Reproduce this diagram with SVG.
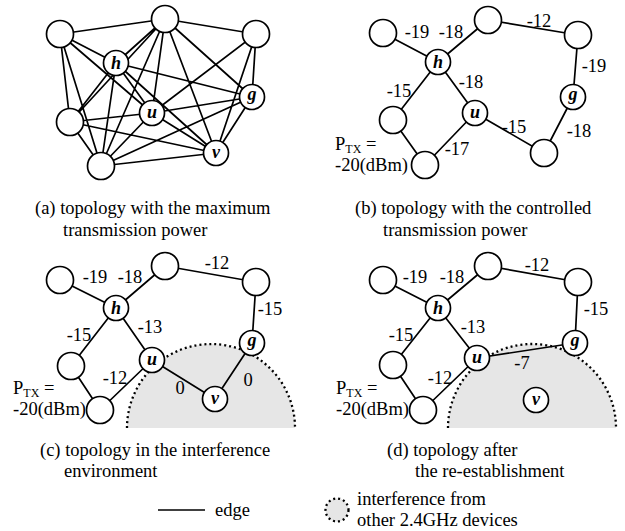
<svg xmlns="http://www.w3.org/2000/svg" width="625" height="531" viewBox="0 0 625 531">
<style>
.e{stroke:#000;stroke-width:1.7;fill:none}
.n{fill:#fff;stroke:#000;stroke-width:1.7}
.t{font-family:"Liberation Serif","Times New Roman",serif;font-size:18.5px;fill:#000}
.m{text-anchor:middle}
.lab{font-family:"Liberation Serif","Times New Roman",serif;font-size:18px;font-weight:bold;font-style:italic;text-anchor:middle;fill:#000}
.intf{fill:#e6e6e6;stroke:none}
.dot{fill:none;stroke:#000;stroke-width:2.3;stroke-dasharray:2 3}
.sub{font-size:12px}
</style>
<rect width="625" height="531" fill="#fff"/>
<g id="interference">
<path class="intf" d="M127 428 A84 84 0 0 1 295 428 Z"/>
<path class="intf" d="M448 428 A84 84 0 0 1 616 428 Z"/>
</g>
<g id="connectors">
<path class="e" d="M60 34L165 19M60 34L116 63M60 34L152 113M60 34L70 122M60 34L101 166
M165 19L256 34M165 19L116 63M165 19L252 97M165 19L152 113M165 19L70 122M165 19L101 166M165 19L216 153
M256 34L252 97M256 34L152 113M256 34L216 153
M116 63L252 97M116 63L152 113M116 63L70 122M116 63L101 166M116 63L216 153
M252 97L152 113M252 97L101 166M252 97L216 153
M152 113L70 122M152 113L101 166M152 113L216 153
M70 122L101 166M70 122L216 153M101 166L216 153"/>
<path class="e" d="M383 33L438 62M438 62L488 20M488 20L578 35M578 35L573 97M438 62L393 120M438 62L475 113M393 120L425 165M475 113L425 165M475 113L544 153M573 97L544 153"/>
<path class="e" d="M60 280L116 308M116 308L165 266M165 266L256 282M256 282L252 343M116 308L71 366M116 308L152 360M71 366L100 410M152 360L100 410M152 360L215 399M215 399L252 343"/>
<path class="e" d="M383 280L438 308M438 308L488 266M488 266L578 282M578 282L575 343M438 308L393 365M438 308L477 358M393 365L423 410M477 358L423 410M477 358L575 343"/>
<path class="e" d="M158 510L205 510"/>
</g>
<g id="interference-border">
<path class="dot" d="M127 428 A84 84 0 0 1 295 428"/>
<path class="dot" d="M448 428 A84 84 0 0 1 616 428"/>
</g>
<g id="a-tl"><circle class="n" cx="60" cy="34" r="13.5"/></g>
<g id="a-t"><circle class="n" cx="165" cy="19" r="13.5"/></g>
<g id="a-tr"><circle class="n" cx="256" cy="34" r="13.5"/></g>
<g id="a-h"><circle class="n" cx="116" cy="63" r="12.5"/><text class="lab" x="116" y="69">h</text></g>
<g id="a-g"><circle class="n" cx="252" cy="97" r="12.5"/><text class="lab" x="252" y="100">g</text></g>
<g id="a-u"><circle class="n" cx="152" cy="113" r="12.5"/><text class="lab" x="152" y="117.5">u</text></g>
<g id="a-lm"><circle class="n" cx="70" cy="122" r="13.5"/></g>
<g id="a-b"><circle class="n" cx="101" cy="166" r="13.5"/></g>
<g id="a-v"><circle class="n" cx="216" cy="153" r="12.5"/><text class="lab" x="216" y="157.5">v</text></g>
<g id="b-l"><circle class="n" cx="383" cy="33" r="13.5"/></g>
<g id="b-t"><circle class="n" cx="488" cy="20" r="13.5"/></g>
<g id="b-tr"><circle class="n" cx="578" cy="35" r="13.5"/></g>
<g id="b-h"><circle class="n" cx="438" cy="62" r="12.5"/><text class="lab" x="438" y="68">h</text></g>
<g id="b-g"><circle class="n" cx="573" cy="97" r="12.5"/><text class="lab" x="573" y="100">g</text></g>
<g id="b-u"><circle class="n" cx="475" cy="113" r="12.5"/><text class="lab" x="475" y="117.5">u</text></g>
<g id="b-lm"><circle class="n" cx="393" cy="120" r="13.5"/></g>
<g id="b-b"><circle class="n" cx="425" cy="165" r="13.5"/></g>
<g id="b-br"><circle class="n" cx="544" cy="153" r="13.5"/></g>
<g id="c-tl"><circle class="n" cx="60" cy="280" r="13.5"/></g>
<g id="c-t"><circle class="n" cx="165" cy="266" r="13.5"/></g>
<g id="c-tr"><circle class="n" cx="256" cy="282" r="13.5"/></g>
<g id="c-h"><circle class="n" cx="116" cy="308" r="12.5"/><text class="lab" x="116" y="314">h</text></g>
<g id="c-g"><circle class="n" cx="252" cy="343" r="12.5"/><text class="lab" x="252" y="346">g</text></g>
<g id="c-u"><circle class="n" cx="152" cy="360" r="12.5"/><text class="lab" x="152" y="364.5">u</text></g>
<g id="c-lm"><circle class="n" cx="71" cy="366" r="13.5"/></g>
<g id="c-b"><circle class="n" cx="100" cy="410" r="13.5"/></g>
<g id="c-v"><circle class="n" cx="215" cy="399" r="12.5"/><text class="lab" x="215" y="403.5">v</text></g>
<g id="d-tl"><circle class="n" cx="383" cy="280" r="13.5"/></g>
<g id="d-t"><circle class="n" cx="488" cy="266" r="13.5"/></g>
<g id="d-tr"><circle class="n" cx="578" cy="282" r="13.5"/></g>
<g id="d-h"><circle class="n" cx="438" cy="308" r="12.5"/><text class="lab" x="438" y="314">h</text></g>
<g id="d-g"><circle class="n" cx="575" cy="343" r="12.5"/><text class="lab" x="575" y="346">g</text></g>
<g id="d-u"><circle class="n" cx="477" cy="358" r="12.5"/><text class="lab" x="477" y="362.5">u</text></g>
<g id="d-lm"><circle class="n" cx="393" cy="365" r="13.5"/></g>
<g id="d-b"><circle class="n" cx="423" cy="410" r="13.5"/></g>
<g id="d-v"><circle class="n" cx="536" cy="400" r="12.5"/><text class="lab" x="536" y="404.5">v</text></g>
<g id="labels-b" class="t m">
<text x="417" y="38">-19</text><text x="451" y="38">-18</text><text x="539" y="27">-12</text>
<text x="594" y="72">-19</text><text x="399" y="97">-15</text><text x="471" y="88">-18</text>
<text x="514" y="133">-15</text><text x="579" y="137">-18</text><text x="457" y="155">-17</text>
</g>
<g id="labels-c" class="t m">
<text x="95" y="283">-19</text><text x="130" y="283">-18</text><text x="217" y="269">-12</text>
<text x="270" y="315">-15</text><text x="79" y="341">-15</text><text x="150" y="333">-13</text>
<text x="115" y="384">-12</text><text x="180" y="394">0</text><text x="248" y="386">0</text>
</g>
<g id="labels-d" class="t m">
<text x="415" y="283">-19</text><text x="452" y="283">-18</text><text x="537" y="271">-12</text>
<text x="596" y="315">-15</text><text x="401" y="341">-15</text><text x="473" y="333">-13</text>
<text x="440" y="384">-12</text><text x="522" y="369">-7</text>
</g>
<g id="ptx" class="t">
<text x="335" y="150">P<tspan class="sub" dy="2.5">TX</tspan><tspan dy="-2.5"> =</tspan></text>
<text x="335" y="171">-20(dBm)</text>
<text x="13" y="394">P<tspan class="sub" dy="2.5">TX</tspan><tspan dy="-2.5"> =</tspan></text>
<text x="13" y="415">-20(dBm)</text>
<text x="336" y="394">P<tspan class="sub" dy="2.5">TX</tspan><tspan dy="-2.5"> =</tspan></text>
<text x="336" y="415">-20(dBm)</text>
</g>
<g id="captions" class="t">
<text x="35" y="214">(a) topology with the maximum</text>
<text x="63" y="236">transmission power</text>
<text x="355" y="214">(b) topology with the controlled</text>
<text x="383" y="236">transmission power</text>
<text x="40" y="456">(c) topology in the interference</text>
<text x="64" y="477">environment</text>
<text x="387" y="456">(d) topology after</text>
<text x="415" y="477">the re-establishment</text>
</g>
<g id="legend" class="t">
<text x="215" y="516">edge</text>
<circle cx="337" cy="510" r="11.5" fill="#e6e6e6" stroke="#000" stroke-width="2.3" stroke-dasharray="2 3"/>
<text x="357" y="505">interference from</text>
<text x="357" y="526">other 2.4GHz devices</text>
</g>
</svg>
